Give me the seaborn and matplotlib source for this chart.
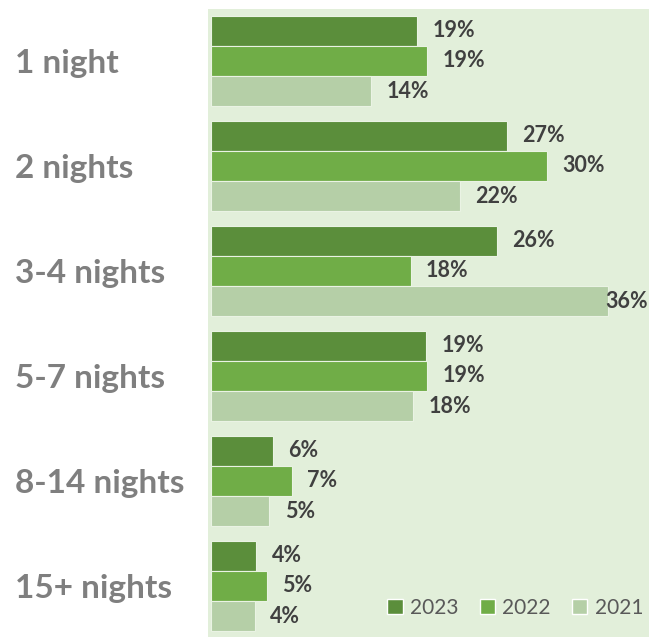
import pandas as pd
import seaborn as sns
import matplotlib.pyplot as plt
from matplotlib.patches import Rectangle

# data (bar lengths estimated, labels as printed)
stays = ['1 night', '2 nights', '3-4 nights', '5-7 nights', '8-14 nights', '15+ nights']
share_2023 = [18.7, 26.8, 25.9, 19.5, 5.6, 4.1]
share_2022 = [19.6, 30.5, 18.1, 19.6, 7.3, 5.1]
share_2021 = [14.5, 22.6, 36.0, 18.3, 5.3, 4.0]
label_2023 = ['19%', '27%', '26%', '19%', '6%', '4%']
label_2022 = ['19%', '30%', '18%', '19%', '7%', '5%']
label_2021 = ['14%', '22%', '36%', '18%', '5%', '4%']
years = ['2023', '2022', '2021']
colors = ['#5B8E3B', '#70AD47', '#B5CFA7']

df = pd.DataFrame({
    'stay': stays * 3,
    'year': [y for y in years for _ in stays],
    'share': share_2023 + share_2022 + share_2021,
})

sns.set_style('white')
plt.rcParams['font.family'] = ['Lato', 'DejaVu Sans']

W, H = 649, 637
fig = plt.figure(figsize=(W / 100, H / 100), dpi=100)

# light green panel behind the bars
fig.patches.append(Rectangle((208 / W, 0), 1 - 208 / W, 1 - 9 / H,
                             transform=fig.transFigure, facecolor='#E2EFDA',
                             edgecolor='none', zorder=-5))

ax = fig.add_axes([211 / W, 0, 1 - 211 / W, 1 - 9 / H])
ax.patch.set_alpha(0)

sns.barplot(data=df, y='stay', x='share', hue='year', hue_order=years,
            palette=colors, orient='h', width=0.86, saturation=1,
            edgecolor='#EAF3E4', linewidth=0.8, ax=ax, legend=False)

px_per_pct = 11.03
ax.set_xlim(0, (W - 211) / px_per_pct)
ax.set_ylim(5.486, -0.495)

texts = []
for cont, labs in zip(ax.containers, [label_2023, label_2022, label_2021]):
    texts += ax.bar_label(cont, labels=labs, padding=11, fontsize=15.5,
                          fontweight='bold', color='#404040', clip_on=False)

ax.set_xticks([])
ax.set_yticks(range(len(stays)))
ax.set_yticklabels(stays, fontsize=24, fontweight='bold', color='#7F7F7F')
ax.tick_params(axis='y', length=0, pad=0)
for lab in ax.get_yticklabels():
    lab.set_horizontalalignment('left')
    lab.set_x(-196 / (W - 211))
ax.set_xlabel('')
ax.set_ylabel('')
sns.despine(ax=ax, left=True, bottom=True)

# pull labels that would run past the right edge back inside
fig.canvas.draw()
r = fig.canvas.get_renderer()
for t in texts:
    bb = t.get_window_extent(r)
    if bb.x1 > W - 1:
        t.xyann = (t.xyann[0] - (bb.x1 - W + 1) * 72 / 100, t.xyann[1])

handles = [Rectangle((0, 0), 1, 1, facecolor=c) for c in colors]
fig.legend(handles, years, loc='center right', bbox_to_anchor=(1.02, 1 - 608 / H),
           ncol=3, frameon=False, fontsize=15, labelcolor='#595959',
           handlelength=0.75, handleheight=0.75, handletextpad=0.35, columnspacing=1.0)

fig.savefig('out.png', dpi=100)
